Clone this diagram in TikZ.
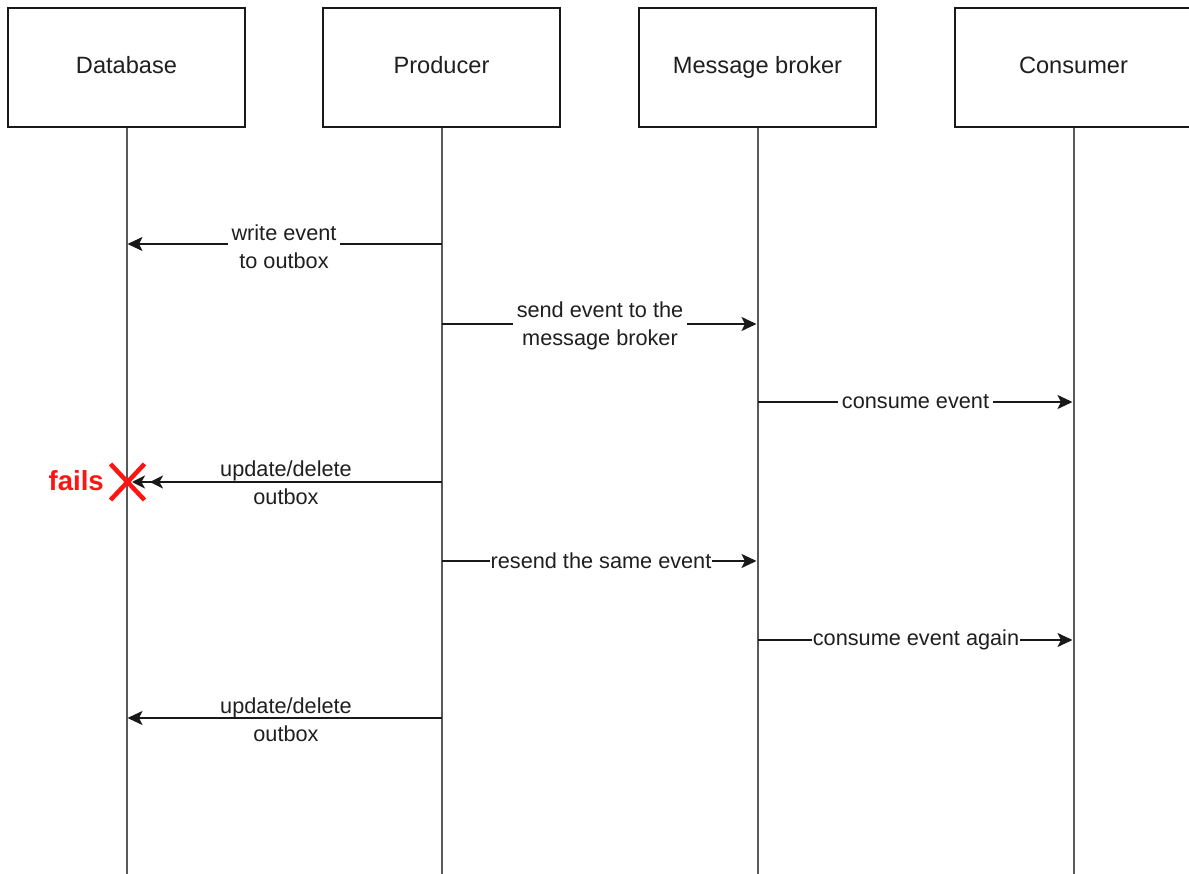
\documentclass[tikz,border=0pt]{standalone}
\usepackage{fontspec}
\setmainfont{Liberation Sans}
\usetikzlibrary{arrows.meta}

\begin{document}
\begin{tikzpicture}[x=1pt,y=-1pt,
  actor/.style={draw=black!90, line width=2.4pt, fill=white,
    minimum width=237pt, minimum height=119pt, inner sep=0pt,
    text height=17pt, text depth=5pt,
    font=\fontsize{23.6}{28}\selectfont, text=black!88},
  lifeline/.style={draw=black!65, line width=2pt},
  msg/.style={draw=black!90, line width=2pt,
    -{Stealth[length=15pt,width=14pt,inset=3.5pt]}},
  msgtwice/.style={draw=black!90, line width=2pt,
    -{Stealth[length=13pt,width=13pt,inset=3.5pt,sep=5pt]Stealth[length=13pt,width=13pt,inset=3.5pt]}},
  lbl/.style={font=\fontsize{21.7}{28}\selectfont, text=black!88,
    align=center, inner xsep=4pt, inner ysep=1pt},
  lblbg/.style={lbl, fill=white},
  failmark/.style={draw={rgb,255:red,255;green,20;blue,20}, line width=4.5pt},
]
\useasboundingbox (0,0) rectangle (1189,874);

% participants
\node[actor] (db)   at (126.5,67.5)  {Database};
\node[actor] (prod) at (441.5,67.5)  {Producer};
\node[actor] (mb)   at (757.5,67.5)  {Message broker};
\node[actor] (cons) at (1073.5,67.5) {Consumer};

% lifeline ends
\coordinate (dbEnd)   at (126.5,874);
\coordinate (prodEnd) at (441.5,874);
\coordinate (mbEnd)   at (757.5,874);
\coordinate (consEnd) at (1073.5,874);

\draw[lifeline] (db.south)   -- (dbEnd);
\draw[lifeline] (prod.south) -- (prodEnd);
\draw[lifeline] (mb.south)   -- (mbEnd);
\draw[lifeline] (cons.south) -- (consEnd);

% message anchor points on the lifelines
\coordinate (p1) at (441.5,244);  \coordinate (d1) at (127.5,244);
\coordinate (p2) at (441.5,324);  \coordinate (m2) at (756.5,324);
\coordinate (m3) at (757.5,402);  \coordinate (c3) at (1072.5,402);
\coordinate (p4) at (441.5,482);  \coordinate (d4) at (132,482);
\coordinate (p5) at (441.5,561);  \coordinate (m5) at (756.5,561);
\coordinate (m6) at (757.5,640);  \coordinate (c6) at (1072.5,640);
\coordinate (p7) at (441.5,718);  \coordinate (d7) at (127.5,718);

% failure marker on the database lifeline
\coordinate (xc) at (127.5,482);
\draw[failmark] ([shift={(-17,-18)}]xc) -- ([shift={(17,18)}]xc);
\draw[failmark] ([shift={(17,-18)}]xc) -- ([shift={(-17,18)}]xc);
\node[anchor=east, inner sep=0pt, text={rgb,255:red,255;green,20;blue,20},
  font=\fontsize{27.6}{30}\bfseries] (fails) at (104,481) {fails};

% messages
\draw[msg] (p1) -- (d1);
\node[lblbg] (l1) at (284,247) {write event\\to outbox};

\draw[msg] (p2) -- (m2);
\node[lblbg] (l2) at (600,326) {send event to the\\message broker};

\draw[msg] (m3) -- (c3);
\node[lblbg, inner ysep=0pt] (l3) at (915.5,402) {consume event};

\draw[msgtwice] (p4) -- (d4);
\node[lbl] (l4) at (286,483) {update/delete\\outbox};

\draw[msg] (p5) -- (m5);
\node[lblbg, inner ysep=0pt, inner xsep=1pt] (l5) at (601,561) {resend the same event};

\draw[msg] (m6) -- (c6);
\node[lblbg, inner ysep=0pt, inner xsep=1pt] (l6) at (916,640) {consume event again};

\draw[msg] (p7) -- (d7);
\node[lbl] (l7) at (286,720) {update/delete\\outbox};
\end{tikzpicture}
\end{document}
